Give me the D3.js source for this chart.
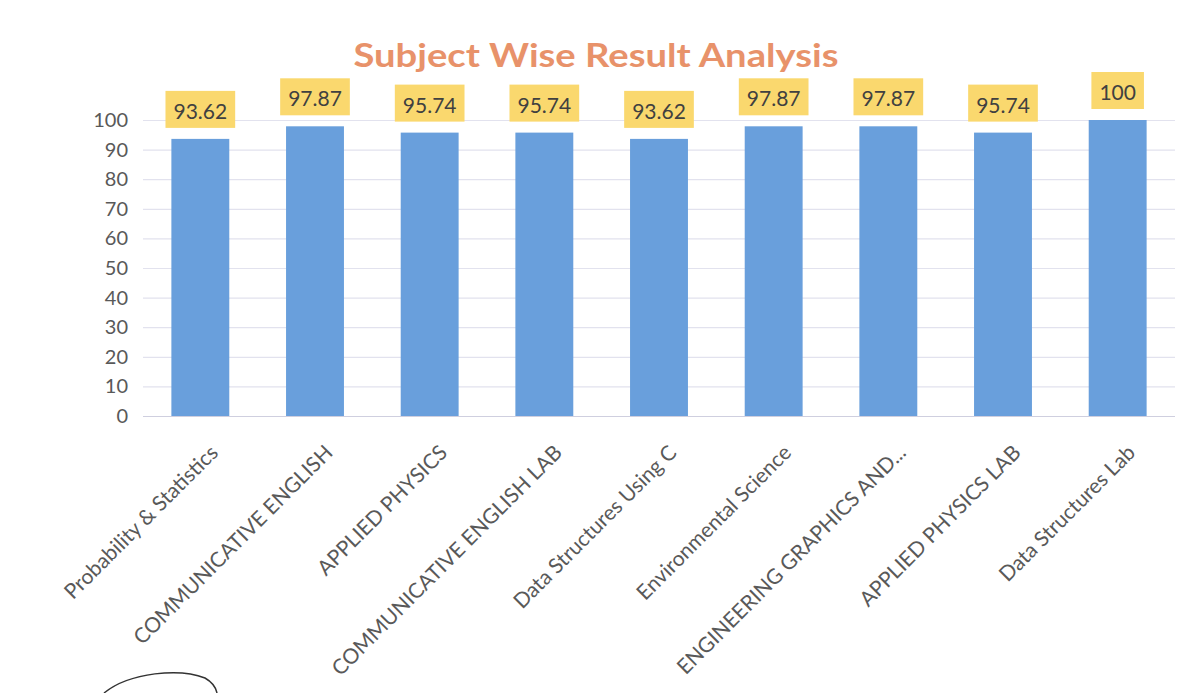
<!DOCTYPE html>
<html>
<head>
    <meta charset="utf-8">
    <script src="https://d3js.org/d3.v7.min.js"></script>
    <style>
        body { margin: 0; background: #fff; }
        text { font-family: Lato, "Open Sans", sans-serif; }
    </style>
</head>
<body></body>
<script>
    // values
    var subjects = ["Probability & Statistics", "COMMUNICATIVE ENGLISH", "APPLIED PHYSICS",
        "COMMUNICATIVE ENGLISH LAB", "Data Structures Using C", "Environmental Science",
        "ENGINEERING GRAPHICS AND...", "APPLIED PHYSICS LAB", "Data Structures Lab"];
    var passPct = [93.62, 97.87, 95.74, 95.74, 93.62, 97.87, 97.87, 95.74, 100];
    var yTicks = [0, 10, 20, 30, 40, 50, 60, 70, 80, 90, 100];

    var W = 1195, H = 693;
    var margin = {top: 120, right: 20, bottom: 277, left: 143};
    var plotW = 1032,
        height = H - margin.top - margin.bottom;

    var svg = d3.select("body").append("svg")
        .attr("width", W)
        .attr("height", H);

    var g = svg.append("g")
        .attr("transform", "translate(" + margin.left + "," + margin.top + ")");

    var x = d3.scaleBand().domain(subjects).range([0, plotW])
        .paddingInner(0.495).paddingOuter(0.2475);
    var y = d3.scaleLinear().domain([0, 100]).range([height, 0]);

    // gridlines
    g.append("g").selectAll("line")
        .data(yTicks)
        .enter().append("line")
        .attr("x1", 0).attr("x2", plotW)
        .attr("y1", function(d) { return y(d) + 0.5; })
        .attr("y2", function(d) { return y(d) + 0.5; })
        .attr("stroke", function(d) { return d === 0 ? "#cfcfdf" : "#e2e2ee"; })
        .attr("stroke-width", 1.2);

    // y axis labels
    var yAxis = d3.axisLeft(y).tickValues(yTicks).tickSize(0).tickPadding(15);
    g.append("g").call(yAxis)
        .call(function(s) { s.select(".domain").remove(); })
        .selectAll("text")
        .attr("fill", "#595959")
        .style("font-size", "20px");

    // bars
    g.selectAll("rect.bar")
        .data(passPct)
        .enter().append("rect")
        .attr("class", "bar")
        .attr("x", function(d, i) { return x(subjects[i]); })
        .attr("y", function(d) { return y(d); })
        .attr("width", x.bandwidth())
        .attr("height", function(d) { return height - y(d); })
        .attr("fill", "#699fdc");

    // data labels with yellow boxes
    var lbl = g.selectAll("g.lbl")
        .data(passPct)
        .enter().append("g")
        .attr("class", "lbl")
        .attr("transform", function(d, i) {
            return "translate(" + (x(subjects[i]) + x.bandwidth() / 2) + "," + (y(d) - 20) + ")";
        });

    lbl.append("rect").attr("fill", "#fad86e");
    lbl.append("text")
        .attr("text-anchor", "middle")
        .attr("fill", "#404040")
        .style("font-size", "21px")
        .text(function(d) { return d; });
    lbl.each(function() {
        var t = d3.select(this).select("text");
        var w = t.node().getComputedTextLength() + 16;
        d3.select(this).select("rect")
            .attr("x", -w / 2).attr("y", -28)
            .attr("width", w).attr("height", 37);
    });

    // category labels, rotated
    g.append("g").selectAll("text")
        .data(subjects)
        .enter().append("text")
        .attr("transform", function(d) {
            return "translate(" + (x(d) + x.bandwidth() / 2 + 19) + "," + (height + 38) + ") rotate(-45)";
        })
        .attr("text-anchor", "end")
        .attr("fill", "#595959")
        .style("font-size", "21px")
        .text(function(d) { return d; });

    // title
    svg.append("text")
        .attr("x", 596).attr("y", 67)
        .attr("text-anchor", "middle")
        .attr("fill", "#e8926a")
        .attr("textLength", 485)
        .attr("lengthAdjust", "spacingAndGlyphs")
        .style("font-size", "33px")
        .style("font-weight", "bold")
        .text("Subject Wise Result Analysis");

    // pen mark at the bottom-left of the scan
    svg.append("path")
        .attr("d", "M104,693 C130,672 180,668 205,678 C212,682 216,688 217,693")
        .attr("fill", "none")
        .attr("stroke", "#333")
        .attr("stroke-width", 1.5);
</script>
</html>
